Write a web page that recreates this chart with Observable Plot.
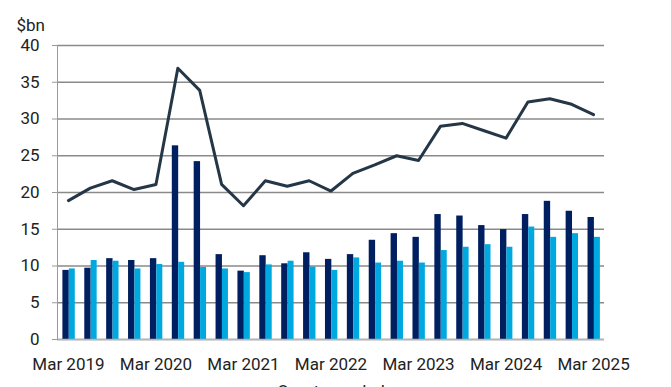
<!DOCTYPE html>
<html><head><meta charset="utf-8">
<script src="https://cdn.jsdelivr.net/npm/d3@7"></script>
<script src="https://cdn.jsdelivr.net/npm/@observablehq/plot@0.6"></script>
<style>
html,body{margin:0;padding:0;background:#fff;overflow:hidden}
</style></head><body><div id="chart"></div>
<script>
const quarters = [
  "Mar 2019","Jun 2019","Sep 2019","Dec 2019",
  "Mar 2020","Jun 2020","Sep 2020","Dec 2020",
  "Mar 2021","Jun 2021","Sep 2021","Dec 2021",
  "Mar 2022","Jun 2022","Sep 2022","Dec 2022",
  "Mar 2023","Jun 2023","Sep 2023","Dec 2023",
  "Mar 2024","Jun 2024","Sep 2024","Dec 2024",
  "Mar 2025"
];
const seriesDark = [9.4, 9.7, 11.0, 10.75, 11.0, 26.35, 24.2, 11.55, 9.3, 11.4, 10.3, 11.8, 10.9, 11.55, 13.5, 14.4, 13.9, 17.0, 16.8, 15.5, 14.95, 17.0, 18.8, 17.45, 16.6];
const seriesLight = [9.6, 10.75, 10.65, 9.6, 10.2, 10.5, 9.8, 9.6, 9.1, 10.15, 10.65, 9.85, 9.4, 11.1, 10.4, 10.65, 10.4, 12.1, 12.55, 12.9, 12.55, 15.3, 13.9, 14.4, 13.9];
const seriesLine = [18.9, 20.6, 21.6, 20.4, 21.1, 36.9, 33.9, 21.1, 18.2, 21.6, 20.85, 21.6, 20.2, 22.6, 23.75, 25.0, 24.35, 29.0, 29.4, 28.4, 27.4, 32.3, 32.75, 32.0, 30.6];
const yTicks = [0, 5, 10, 15, 20, 25, 30, 35, 40];
const xTickLabels = ["Mar 2019","Mar 2020","Mar 2021","Mar 2022","Mar 2023","Mar 2024","Mar 2025"];
const yUnit = "$bn";
const xTitle = "Quarter ended";

const rows = quarters.map((q, i) => ({q, a: seriesDark[i], b: seriesLight[i], t: seriesLine[i]}));
const font = "Roboto, 'Liberation Sans', sans-serif";

const chart = Plot.plot({
  width: 671, height: 400,
  marginLeft: 57, marginRight: 67, marginTop: 45, marginBottom: 61,
  style: {fontFamily: font, fontSize: "17px", color: "#222", background: "#fff"},
  x: {type: "band", domain: quarters, padding: 0, round: false, label: null},
  y: {domain: [0, 40], label: null},
  marks: [
    Plot.gridY(yTicks, {stroke: "#8a8a8a", strokeOpacity: 1, strokeWidth: 1.6}),
    Plot.barY(rows, {x: "q", y: "a", fill: "#001f60", insetLeft: 5.4, insetRight: 10.1}),
    Plot.barY(rows, {x: "q", y: "b", fill: "#00a8e0", insetLeft: 11.8, insetRight: 4.1}),
    Plot.ruleY([0], {stroke: "#b5b5b5", strokeWidth: 1.5}),
    Plot.frame({anchor: "left", stroke: "#9a9a9a", strokeWidth: 1}),
    Plot.axisY(yTicks, {tickSize: 5, tickPadding: 13, stroke: "#9a9a9a", fontSize: 17, label: null}),
    Plot.axisX(xTickLabels, {tickSize: 0, tickPadding: 18, fontSize: 17, label: null}),
    Plot.line(rows, {x: "q", y: "t", stroke: "#253746", strokeWidth: 3}),
    Plot.text([yUnit], {frameAnchor: "top-left", dx: -41, dy: -27, textAnchor: "start", fontSize: 17}),
    Plot.text([xTitle], {frameAnchor: "bottom", dy: 57, fontSize: 17})
  ]
});
document.getElementById("chart").appendChild(chart);
</script>
</body></html>
